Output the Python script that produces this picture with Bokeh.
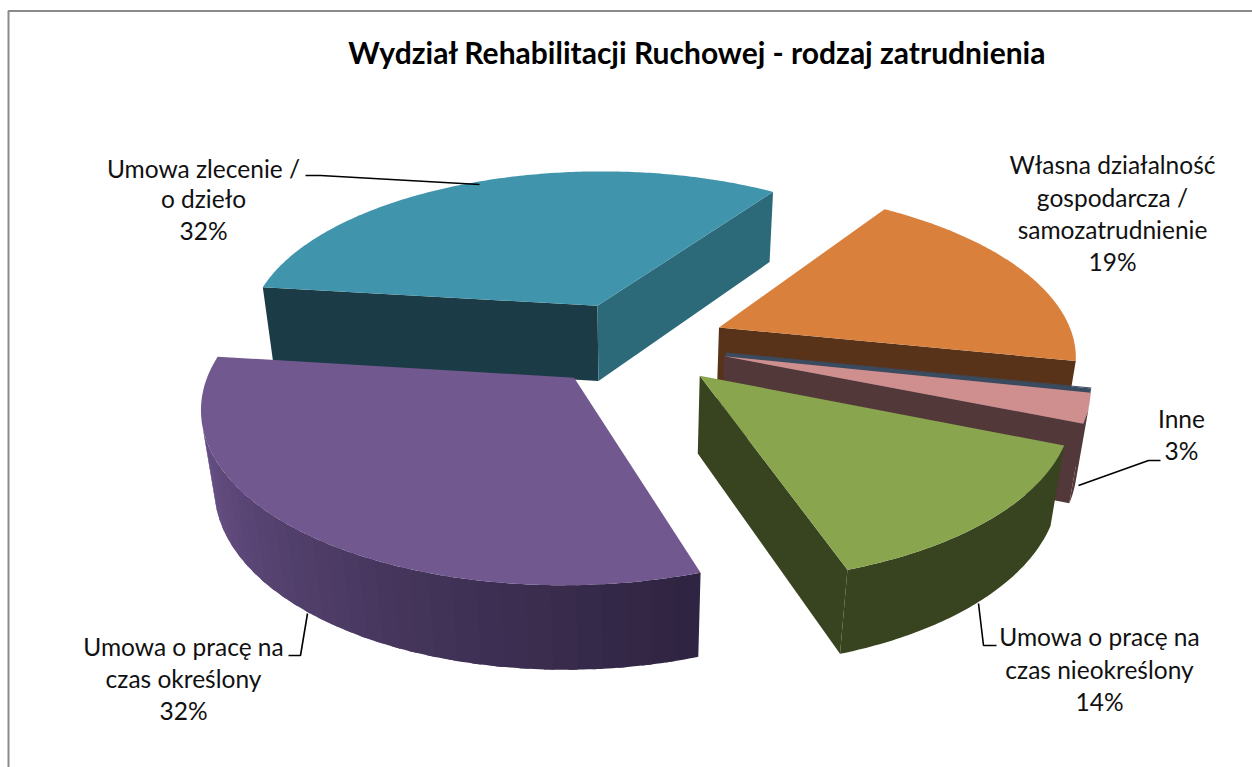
import numpy as np
from bokeh.plotting import figure
from bokeh.models import Range1d
from bokeh.core.properties import value
from bokeh.embed import file_html
from bokeh.resources import INLINE

# ---- data (clockwise from the orange slice)
categories = ["Własna działalność gospodarcza / samozatrudnienie", "(brak)", "Inne",
              "Umowa o pracę na czas nieokreślony", "Umowa o pracę na czas określony",
              "Umowa zlecenie / o dzieło"]
shares = [18.8, 0.1, 2.8, 13.7, 32.1, 32.49]
title = "Wydział Rehabilitacji Ruchowej - rodzaj zatrudnienia"

# ---- styles
top_colors = ["#d9813c", "#3a4b60", "#cf8f8e", "#89a54e", "#71588f", "#4095ad"]
face_colors = ["#58331a", "#3a4b60", "#533839", "#38431f", "#33284a", "#1b3b47"]
wall_a = ["#58331a", "#3a4b60", "#533839", "#38431f", "#2f2441", "#1b3b47"]
wall_b = ["#58331a", "#3a4b60", "#533839", "#38431f", "#675085", "#1b3b47"]
teal_right_face = "#2c6a7a"
paint_order = [5, 0, 1, 2, 3, 4]

# ---- projection of the exploded pie
CX, CY, A, B, C, K, M = 634.0, 343.0, 356.0, 165.0, 79.0, 0.15, 0.03
EXPLODE = 0.26
START = 34.0  # degrees clockwise from the back of the pie


def project(X, Y, Z):
    w = 1 - K * Y + M * Z
    return CX + A * X / w, CY + (B * Y + C * Z) / w


def area(xs, ys):
    return 0.5 * sum(xs[i] * ys[(i + 1) % len(xs)] - xs[(i + 1) % len(xs)] * ys[i] for i in range(len(xs)))


def mix(c1, c2, t):
    a = [int(c1[i:i + 2], 16) for i in (1, 3, 5)]
    b = [int(c2[i:i + 2], 16) for i in (1, 3, 5)]
    return "#%02x%02x%02x" % tuple(int(round(a[i] + (b[i] - a[i]) * t)) for i in range(3))


fractions = np.array(shares) / sum(shares) * 360.0
edges = START + np.concatenate([[0], np.cumsum(fractions)])

xs_all, ys_all, fills = [], [], []


def add(xs, ys, color):
    xs_all.append(list(xs))
    ys_all.append(list(ys))
    fills.append(color)


for i in paint_order:
    t0, t1 = edges[i], edges[i + 1]
    mid = np.radians((t0 + t1) / 2)
    ox, oy = EXPLODE * np.sin(mid), -EXPLODE * np.cos(mid)
    th = np.radians(np.linspace(t0, t1, max(8, int((t1 - t0) * 1.5))))
    rx, ry = ox + np.sin(th), oy - np.cos(th)
    top = project(rx, ry, 0)
    bot = project(rx, ry, 1)
    ax_t, ay_t = project(ox, oy, 0)
    ax_b, ay_b = project(ox, oy, 1)
    # radial cut faces (skip those turned away from the viewer)
    q = ([ax_t, top[0][0], bot[0][0], ax_b], [ay_t, top[1][0], bot[1][0], ay_b])
    if area(*q) < 0:
        add(*q, face_colors[i])
    q = ([ax_t, ax_b, bot[0][-1], top[0][-1]], [ay_t, ay_b, bot[1][-1], top[1][-1]])
    if area(*q) < 0:
        add(*q, teal_right_face if i == 5 else face_colors[i])
    # curved wall: only the part turned towards the viewer, in broad shading bands
    visible = [j for j in range(len(th) - 1)
               if area([top[0][j], top[0][j + 1], bot[0][j + 1], bot[0][j]],
                       [top[1][j], top[1][j + 1], bot[1][j + 1], bot[1][j]]) < 0]
    if visible:
        shaded = wall_a[i] != wall_b[i]
        n_bands = 32 if shaded else 1
        bands = np.array_split(np.array(visible), n_bands)
        for b_i, band in enumerate(bands):
            lo = band[0]
            # each band runs on under the next, so that no seam shows
            hi = visible[-1] + 1 if b_i == n_bands - 1 else band[-1] + 3
            hi = min(hi, len(th) - 1)
            idx = np.arange(lo, hi + 1)
            add(list(top[0][idx]) + list(bot[0][idx][::-1]),
                list(top[1][idx]) + list(bot[1][idx][::-1]),
                mix(wall_a[i], wall_b[i], b_i / max(1, n_bands - 1)))
    # top
    add([ax_t] + list(top[0]), [ay_t] + list(top[1]), top_colors[i])

p = figure(width=1252, height=767, output_backend="svg", toolbar_location=None,
           x_range=Range1d(0, 1252), y_range=Range1d(767, 0), min_border=0)
p.axis.visible = False
p.grid.visible = False
p.outline_line_color = None
p.background_fill_color = "white"

# chart frame
p.line([1252, 8, 8], [10.5, 10.5, 767], line_color="#8a8a8a", line_width=2)

p.patches(xs_all, ys_all, fill_color=fills, line_color=None)

# leader lines
leaders = [
    ([305, 320, 479], [175, 175, 184]),
    ([288, 300, 307], [655, 655, 613]),
    ([978, 983, 996], [603, 645, 645]),
    ([1078, 1148, 1160], [485, 460, 460]),
]
for lx, ly in leaders:
    p.line(lx, ly, line_color="black", line_width=1.6)

# texts
labels = [
    ("Umowa zlecenie /", 203, 168), ("o dzieło", 203, 198), ("32%", 203, 230),
    ("Własna działalność", 1112, 164), ("gospodarcza /", 1112, 197),
    ("samozatrudnienie", 1112, 229), ("19%", 1112, 261),
    ("Inne", 1181, 418), ("3%", 1181, 450),
    ("Umowa o pracę na", 1099, 636), ("czas nieokreślony", 1099, 669), ("14%", 1099, 701),
    ("Umowa o pracę na", 183, 646), ("czas określony", 183, 678), ("32%", 183, 710),
]
p.text([l[1] for l in labels], [l[2] for l in labels], text=[l[0] for l in labels],
       text_font=value("Lato"), text_font_size=value("24.5px"), text_color="#111111",
       text_align="center", text_baseline="middle")
p.text([697], [51], text=[title], text_font=value("Lato"), text_font_size=value("30px"),
       text_font_style="bold", text_color="#000000", text_align="center", text_baseline="middle")

open("out.html", "w").write(file_html(p, INLINE))
